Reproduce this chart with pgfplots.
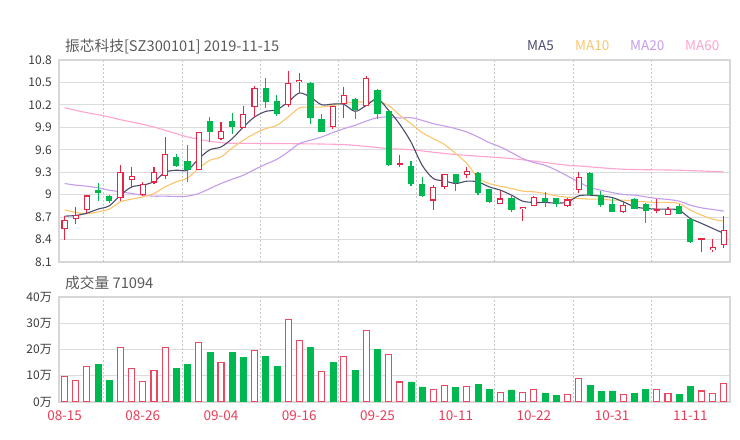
\documentclass[border=0pt]{standalone}
\usepackage{fontspec}
\setmainfont{Noto Sans CJK SC}
\usepackage{pgfplots}
\usepackage{pgfplotstable}
\pgfplotsset{compat=1.18}
\definecolor{cred}{RGB}{230,38,68}
\definecolor{cgreen}{RGB}{0,184,80}
\definecolor{ma5c}{RGB}{75,75,110}
\definecolor{ma10c}{RGB}{251,197,108}
\definecolor{ma20c}{RGB}{197,155,236}
\definecolor{ma60c}{RGB}{255,163,207}
\definecolor{gridc}{RGB}{220,220,220}
\definecolor{framec}{RGB}{215,215,215}
\definecolor{labc}{RGB}{60,60,60}
\definecolor{titc}{RGB}{90,90,90}

\pgfplotstableread{
i o h l c
0 8.536 8.718 8.40 8.66
1 8.669 8.838 8.602 8.727
2 8.789 9.0 8.753 8.989
5 8.958 9.393 8.913 9.304
6 9.202 9.371 9.091 9.256
7 8.989 9.171 8.98 9.149
8 9.162 9.371 9.136 9.304
9 9.251 9.771 9.216 9.54
12 9.331 9.84 9.33 9.833
14 9.744 9.976 9.727 9.851
16 9.891 10.18 9.89 10.082
17 10.171 10.451 10.038 10.429
20 10.193 10.647 10.171 10.496
21 10.504 10.629 10.358 10.536
24 9.904 10.19 9.873 10.184
25 10.216 10.438 10.024 10.336
27 10.18 10.58 10.18 10.562
30 9.40 9.527 9.371 9.41
33 8.922 9.127 8.789 9.1
34 9.104 9.282 9.082 9.273
36 9.26 9.371 9.224 9.322
39 8.878 9.047 8.878 8.949
41 8.802 8.84 8.651 8.838
42 8.851 8.98 8.847 8.971
45 8.842 8.958 8.829 8.936
46 9.064 9.3 9.024 9.238
50 8.767 8.9 8.749 8.86
53 8.78 8.936 8.749 8.802
54 8.727 8.838 8.727 8.811
57 8.393 8.42 8.238 8.416
58 8.256 8.407 8.238 8.296
59 8.327 8.709 8.291 8.527
}\up

\pgfplotstableread{
i o h l c
3 9.069 9.153 8.913 9.024
4 8.984 8.99 8.891 8.922
10 9.504 9.54 9.376 9.389
11 9.451 9.669 9.171 9.327
13 9.984 10.042 9.709 9.838
15 9.98 10.096 9.816 9.9
18 10.429 10.562 10.162 10.238
19 10.247 10.336 10.047 10.078
22 10.496 10.5 9.949 10.024
23 10.016 10.078 9.838 9.838
26 10.278 10.29 10.007 10.127
28 10.398 10.416 10.016 10.078
29 10.118 10.12 9.38 9.402
31 9.38 9.447 9.118 9.136
32 9.149 9.233 8.971 8.984
35 9.273 9.28 9.051 9.158
37 9.296 9.30 8.998 9.02
38 9.073 9.082 8.891 8.904
40 8.949 8.993 8.762 8.793
43 8.949 9.038 8.838 8.896
44 8.949 8.95 8.838 8.878
47 9.296 9.30 8.989 8.989
48 8.989 9.047 8.838 8.856
49 8.878 8.958 8.762 8.771
51 8.944 8.95 8.802 8.811
52 8.882 8.89 8.624 8.784
55 8.851 8.882 8.736 8.74
56 8.673 8.673 8.349 8.362
}\down

\pgfplotstableread{
i ma5 ma10 ma20
0 8.713 8.798 9.149
1 8.722 8.762 9.127
2 8.753 8.744 9.113
3 8.807 8.771 9.091
4 8.851 8.807 9.06
5 8.993 8.904 9.038
6 9.104 8.94 9.016
7 9.127 8.971 8.993
8 9.175 9.016 8.98
9 9.30 9.104 8.98
10 9.327 9.171 8.976
11 9.327 9.224 8.98
12 9.48 9.349 9.016
13 9.6 9.46 9.082
14 9.638 9.504 9.149
15 9.749 9.624 9.207
16 9.904 9.727 9.26
17 10.038 9.816 9.336
18 10.113 9.882 9.407
19 10.136 9.927 9.473
20 10.238 10.038 9.571
21 10.358 10.158 9.682
22 10.304 10.171 9.727
23 10.202 10.171 9.771
24 10.211 10.193 9.829
25 10.207 10.224 9.882
26 10.113 10.238 9.927
27 10.193 10.238 9.984
28 10.282 10.238 10.029
29 10.127 10.193 10.038
30 9.94 10.06 10.025
31 9.704 9.949 10.029
32 9.393 9.829 9.993
33 9.216 9.749 9.949
34 9.184 9.669 9.918
35 9.149 9.549 9.882
36 9.18 9.416 9.838
37 9.171 9.224 9.771
38 9.104 9.149 9.696
39 9.06 9.113 9.638
40 8.993 9.082 9.562
41 8.913 9.047 9.482
42 8.896 9.038 9.429
43 8.896 9.016 9.393
44 8.887 8.984 9.327
45 8.9 8.965 9.25
46 8.984 8.949 9.171
47 8.993 8.94 9.096
48 8.98 8.94 9.06
49 8.962 8.927 9.029
50 8.904 8.927 9.002
51 8.838 8.913 8.993
52 8.816 8.904 8.971
53 8.807 8.896 8.949
54 8.807 8.896 8.936
55 8.793 8.882 8.913
56 8.682 8.793 8.86
57 8.616 8.727 8.824
58 8.549 8.673 8.802
59 8.482 8.647 8.78
}\ma

\pgfplotstableread{
i ma60
0 10.162
1 10.127
2 10.096
3 10.069
4 10.038
5 10.002
6 9.971
7 9.94
8 9.904
9 9.86
10 9.816
11 9.771
12 9.74
13 9.713
14 9.696
15 9.687
20 9.682
25 9.669
29 9.616
31 9.6
35 9.536
40 9.482
45 9.393
46 9.384
50 9.34
55 9.327
59 9.304
}\masixty

\pgfplotstableread{
i v
0 9.6
1 8.2
2 13.6
5 20.7
6 12.8
7 7.7
8 11.9
9 20.9
12 22.7
14 15.2
17 19.7
20 31.5
21 23.5
23 11.7
25 17.4
27 27.3
29 18.2
30 7.6
33 4.9
34 6.2
36 6.0
39 3.6
41 3.6
42 4.7
45 2.9
46 9.0
50 2.8
53 4.8
54 3.2
57 4.2
58 3.2
59 7.1
}\volup

\pgfplotstableread{
i v
3 14.3
4 8.1
10 12.7
11 14.2
13 18.8
15 18.9
16 17.1
18 17.4
19 13.5
22 20.8
24 15.1
26 12.1
28 20.1
31 7.7
32 5.8
35 5.5
37 6.7
38 4.9
40 4.6
43 3.3
44 2.4
47 6.3
48 4.1
49 4.2
51 3.4
52 4.9
55 3.0
56 6.0
}\voldown

\pgfplotsset{
  common/.style={
    scale only axis, width=671bp,
    xmin=-0.5, xmax=59.55,
    major tick length=0pt,
    axis line style={draw=framec, line width=1.5bp},
    ymajorgrids, major grid style={draw=gridc, line width=0.9bp},
    extra x ticks={3.5,10.5,17.5,24.5,31.5,38.5,45.5,52.5},
    extra x tick labels={},
    extra x tick style={xmajorgrids=true, major grid style={draw=gridc!90!black, line width=0.7bp, dash pattern=on 2bp off 2bp}},
    tick label style={font=\fontsize{12bp}{14bp}\selectfont, text=labc},
    yticklabel style={inner sep=0pt, xshift=-7bp},
    /pgf/number format/assume math mode=true,
  }
}

\begin{document}
\begin{tikzpicture}
\path[use as bounding box] (0,0) rectangle (740bp,440bp);

\begin{axis}[common,
  at={(59bp,178bp)}, anchor=south west, height=202bp,
  ymin=8.1, ymax=10.8,
  ytick={8.1,8.4,8.7,9.0,9.3,9.6,9.9,10.2,10.5,10.8},
  yticklabels={8.1,8.4,8.7,9,9.3,9.6,9.9,10.2,10.5,10.8},
  xtick=\empty,
]
% MA lines
\addplot[smooth, ma60c, line width=1.1bp] table[x=i, y=ma60] {\masixty};
\addplot[smooth, ma20c, line width=1.1bp] table[x=i, y=ma20] {\ma};
\addplot[smooth, ma10c, line width=1.1bp] table[x=i, y=ma10] {\ma};
\addplot[smooth, ma5c, line width=1.1bp] table[x=i, y=ma5] {\ma};
% wicks
\addplot[draw=none, mark=none, error bars/.cd, y dir=both, y explicit, error mark=none,
  error bar style={draw=cred, line width=1.1bp}]
  table[x=i, y expr={(\thisrow{h}+\thisrow{l})/2}, y error expr={(\thisrow{h}-\thisrow{l})/2}] {\up};
\addplot[draw=none, mark=none, error bars/.cd, y dir=both, y explicit, error mark=none,
  error bar style={draw=cgreen, line width=1.1bp}]
  table[x=i, y expr={(\thisrow{h}+\thisrow{l})/2}, y error expr={(\thisrow{h}-\thisrow{l})/2}] {\down};
% bodies
\addplot[draw=none, mark=none, error bars/.cd, y dir=both, y explicit, error mark=none,
  error bar style={draw=cred, line width=6.2bp, line cap=butt}]
  table[x=i, y expr={(\thisrow{o}+\thisrow{c})/2}, y error expr={max(abs(\thisrow{c}-\thisrow{o})/2,0.012)}] {\up};
\addplot[draw=none, mark=none, error bars/.cd, y dir=both, y explicit, error mark=none,
  error bar style={draw=white, line width=4.0bp, line cap=butt}]
  table[x=i, y expr={(\thisrow{o}+\thisrow{c})/2}, y error expr={max(abs(\thisrow{c}-\thisrow{o})/2-0.015,0)}] {\up};
\addplot[draw=none, mark=none, error bars/.cd, y dir=both, y explicit, error mark=none,
  error bar style={draw=cgreen, line width=6.2bp, line cap=butt}]
  table[x=i, y expr={(\thisrow{o}+\thisrow{c})/2}, y error expr={max(abs(\thisrow{c}-\thisrow{o})/2,0.008)}] {\down};
\end{axis}

\begin{axis}[common,
  at={(59bp,38bp)}, anchor=south west, height=105bp,
  ymin=0, ymax=40,
  ytick={0,10,20,30,40},
  yticklabels={0万,10万,20万,30万,40万},
  xtick={0,7,14,21,28,35,42,49,56},
  xticklabels={08-15,08-26,09-04,09-16,09-25,10-11,10-22,10-31,11-11},
  xticklabel style={inner sep=0pt, yshift=-9bp, text=cred!90, font=\fontsize{13.5bp}{15bp}\selectfont},
]
\addplot[ybar, bar width=6bp, bar shift=0pt, draw=cred!85, fill=white, line width=1.1bp] table[x=i, y=v] {\volup};
\addplot[ybar, bar width=6bp, bar shift=0pt, draw=cgreen, fill=cgreen, line width=0.5bp] table[x=i, y=v] {\voldown};
\end{axis}

\node[anchor=west, inner sep=0pt, text=titc, font=\fontsize{14.7bp}{17bp}\selectfont] at (65bp,393bp) {振芯科技[SZ300101] 2019-11-15};
\node[anchor=west, inner sep=0pt, text=titc, font=\fontsize{14.7bp}{17bp}\selectfont] at (65bp,157bp) {成交量 71094};
\node[anchor=west, inner sep=0pt, text=ma5c, font=\fontsize{13.5bp}{16bp}\selectfont] at (527bp,394bp) {MA5};
\node[anchor=west, inner sep=0pt, text=ma10c, font=\fontsize{13.5bp}{16bp}\selectfont] at (575bp,394bp) {MA10};
\node[anchor=west, inner sep=0pt, text=ma20c, font=\fontsize{13.5bp}{16bp}\selectfont] at (630bp,394bp) {MA20};
\node[anchor=west, inner sep=0pt, text=ma60c, font=\fontsize{13.5bp}{16bp}\selectfont] at (685bp,394bp) {MA60};
\end{tikzpicture}
\end{document}
